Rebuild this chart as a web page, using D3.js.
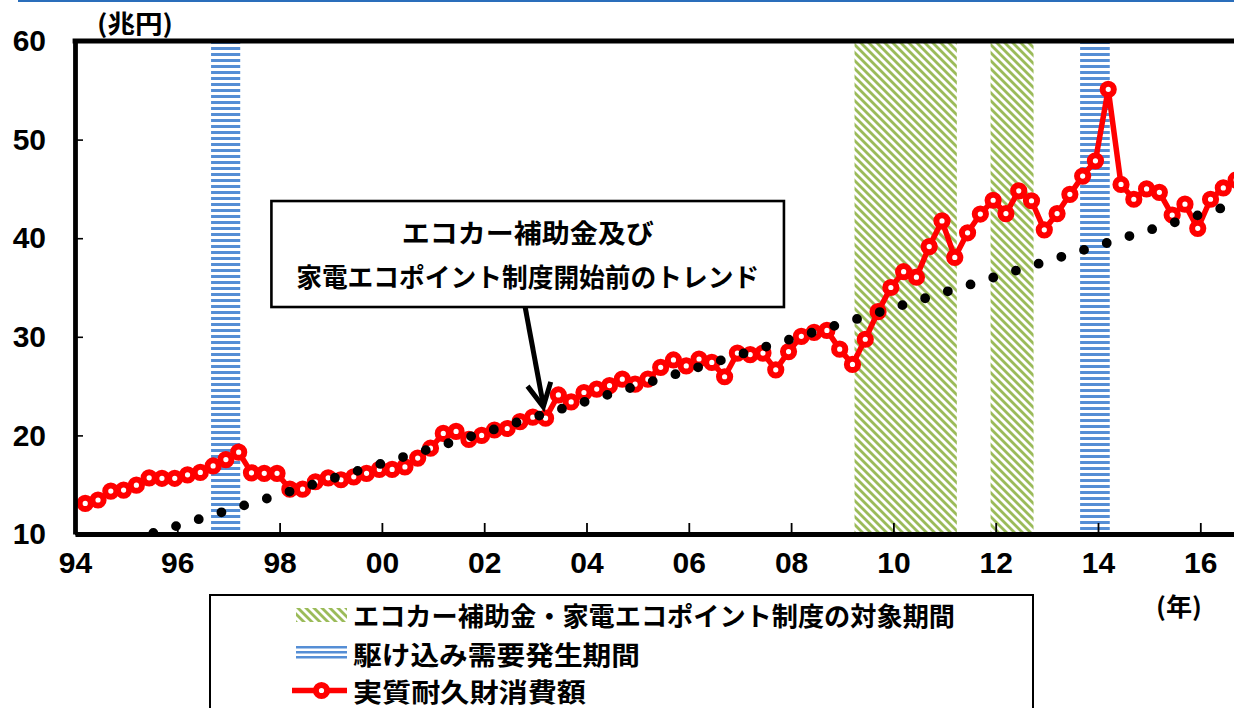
<!DOCTYPE html>
<html><head><meta charset="utf-8">
<script src="https://cdn.jsdelivr.net/npm/d3@7"></script>
<style>body{margin:0;background:#fff}svg{display:block}</style>
</head><body>
<svg id="chart" width="1234" height="708"></svg>
<script>
// ---------------- data ----------------
const quarters = [
"1994Q1","1994Q2","1994Q3","1994Q4","1995Q1","1995Q2","1995Q3","1995Q4",
"1996Q1","1996Q2","1996Q3","1996Q4","1997Q1","1997Q2","1997Q3","1997Q4",
"1998Q1","1998Q2","1998Q3","1998Q4","1999Q1","1999Q2","1999Q3","1999Q4",
"2000Q1","2000Q2","2000Q3","2000Q4","2001Q1","2001Q2","2001Q3","2001Q4",
"2002Q1","2002Q2","2002Q3","2002Q4","2003Q1","2003Q2","2003Q3","2003Q4",
"2004Q1","2004Q2","2004Q3","2004Q4","2005Q1","2005Q2","2005Q3","2005Q4",
"2006Q1","2006Q2","2006Q3","2006Q4","2007Q1","2007Q2","2007Q3","2007Q4",
"2008Q1","2008Q2","2008Q3","2008Q4","2009Q1","2009Q2","2009Q3","2009Q4",
"2010Q1","2010Q2","2010Q3","2010Q4","2011Q1","2011Q2","2011Q3","2011Q4",
"2012Q1","2012Q2","2012Q3","2012Q4","2013Q1","2013Q2","2013Q3","2013Q4",
"2014Q1","2014Q2","2014Q3","2014Q4","2015Q1","2015Q2","2015Q3","2015Q4",
"2016Q1","2016Q2","2016Q3"];
const durableConsumption = [
13.1,13.45,14.35,14.45,14.95,15.7,15.65,15.65,
16.0,16.25,16.9,17.55,18.3,16.2,16.15,16.15,
14.55,14.55,15.3,15.7,15.5,15.8,16.15,16.55,
16.55,16.8,17.7,18.7,20.2,20.4,19.6,20.0,
20.55,20.7,21.4,21.85,21.75,24.1,23.4,24.35,
24.7,25.05,25.7,25.2,25.7,26.9,27.65,27.05,
27.75,27.4,25.95,28.35,28.2,28.35,26.65,28.5,
30.05,30.45,30.65,28.75,27.2,29.75,32.55,35.0,
36.6,36.05,39.15,41.75,38.05,40.55,42.45,43.85,
42.5,44.8,43.8,40.85,42.5,44.45,46.3,47.85,
55.1,45.45,43.95,45.0,44.65,42.35,43.45,41.0,
43.95,45.1,45.9];
const trendQuarters = ["1994Q1","2016Q4"];
const trendValues = [8.0, 43.9];
const yTickValues = [10,20,30,40,50,60];
const xTickYears = [1994,1996,1998,2000,2002,2004,2006,2008,2010,2012,2014,2016];
const xTickLabels = ["94","96","98","00","02","04","06","08","10","12","14","16"];
const ecoPeriods = [[2009.24,2011.24],[2011.90,2012.74]];
const rushPeriods = [[1996.66,1997.23],[2013.65,2014.23]];
const legendLabels = ["エコカー補助金・家電エコポイント制度の対象期間","駆け込み需要発生期間","実質耐久財消費額"];
const annotationLines = ["エコカー補助金及び","家電エコポイント制度開始前のトレンド"];
const yUnitLabel = "(兆円)";
const xUnitLabel = "(年)";

// ---------------- layout ----------------
const W = 1234, H = 708;
const plot = {left:75, top:41, bottom:534, right:1251.45};
const CJK = "'Noto Sans CJK JP','Noto Sans CJK SC',sans-serif";
const NUM = "'Liberation Sans',Arial,sans-serif";
const RED = "#ff0000", GREEN = "#9bbb59", BLUE = "#558ed5";

const qYear = q => +q.slice(0,4) + (+q.slice(5) - 1)/4 + 0.2;

const x = d3.scaleLinear().domain([1994, 2017]).range([plot.left, plot.right]);
const y = d3.scaleLinear().domain([10, 60]).range([plot.bottom, plot.top]);

const svg = d3.select("#chart");
svg.append("rect").attr("width",W).attr("height",H).attr("fill","#fff");

const defs = svg.append("defs");
const hatch = defs.append("pattern").attr("id","ecoHatch")
  .attr("patternUnits","userSpaceOnUse").attr("width",8).attr("height",8);
hatch.append("rect").attr("width",8).attr("height",8).attr("fill","#fff");
hatch.append("path").attr("d","M0,0L4,0L8,4L8,8ZM0,4L4,8L0,8Z").attr("fill",GREEN);
const stripes = defs.append("pattern").attr("id","rushStripes")
  .attr("patternUnits","userSpaceOnUse").attr("width",8).attr("height",6).attr("y",plot.top);
stripes.append("rect").attr("width",8).attr("height",6).attr("fill","#fff");
stripes.append("rect").attr("width",8).attr("height",3).attr("fill",BLUE);
defs.append("clipPath").attr("id","plotClip").append("rect")
  .attr("x",plot.left).attr("y",plot.top)
  .attr("width",plot.right-plot.left+10).attr("height",plot.bottom-plot.top);

// top decorative rule
svg.append("line").attr("x1",18).attr("x2",W).attr("y1",1).attr("y2",1)
  .attr("stroke","#2a6ebb").attr("stroke-width",2);

const g = svg.append("g").attr("clip-path","url(#plotClip)");

// bands
g.selectAll("rect.eco").data(ecoPeriods).join("rect").attr("class","eco")
  .attr("x",d=>x(d[0])).attr("width",d=>x(d[1])-x(d[0]))
  .attr("y",plot.top).attr("height",plot.bottom-plot.top).attr("fill","url(#ecoHatch)");
g.selectAll("rect.rush").data(rushPeriods).join("rect").attr("class","rush")
  .attr("x",d=>x(d[0])).attr("width",d=>x(d[1])-x(d[0]))
  .attr("y",plot.top).attr("height",plot.bottom-plot.top).attr("fill","url(#rushStripes)");

// red series
const series = quarters.map((q,i)=>({t:qYear(q), v:durableConsumption[i]}));
g.append("path").datum(series)
  .attr("d", d3.line().x(d=>x(d.t)).y(d=>y(d.v)))
  .attr("fill","none").attr("stroke",RED).attr("stroke-width",5.5).attr("stroke-linejoin","round");
g.selectAll("circle.pt").data(series).join("circle").attr("class","pt")
  .attr("cx",d=>x(d.t)).attr("cy",d=>y(d.v)).attr("r",5.6)
  .attr("fill","#fff").attr("stroke",RED).attr("stroke-width",6);

// trend (round-dot line)
const trend = trendQuarters.map((q,i)=>({t:qYear(q), v:trendValues[i]}));
const tx0 = x(trend[0].t), ty0 = y(trend[0].v), tx1 = x(trend[1].t), ty1 = y(trend[1].v);
const dotStepX = 22.7;
const gap = dotStepX * Math.hypot(tx1-tx0, ty1-ty0) / (tx1-tx0);
g.append("path").datum(trend)
  .attr("d", d3.line().x(d=>x(d.t)).y(d=>y(d.v)))
  .attr("fill","none").attr("stroke","#000").attr("stroke-width",9.8)
  .attr("stroke-linecap","round").attr("stroke-dasharray",`0 ${gap}`);

// axes
const yAxis = d3.axisLeft(y).tickValues(yTickValues).tickSizeInner(-8).tickSizeOuter(0).tickPadding(29);
const ya = svg.append("g").attr("transform",`translate(${plot.left},0)`).call(yAxis);
ya.select(".domain").attr("stroke","#000").attr("stroke-width",4.8);
ya.selectAll(".tick line").attr("stroke","#000").attr("stroke-width",1.6);
ya.selectAll(".tick text").attr("font-family",NUM).attr("font-size",30).attr("font-weight","bold").attr("fill","#000");

const xAxis = d3.axisBottom(x).tickValues(xTickYears).tickFormat((d,i)=>xTickLabels[i])
  .tickSizeInner(-11).tickSizeOuter(0).tickPadding(18);
const xa = svg.append("g").attr("transform",`translate(0,${plot.bottom})`).call(xAxis);
xa.select(".domain").attr("stroke","#000").attr("stroke-width",5);
xa.selectAll(".tick line").attr("stroke","#000").attr("stroke-width",1.8);
xa.selectAll(".tick text").attr("font-family",NUM).attr("font-size",30).attr("font-weight","bold").attr("fill","#000");

// top border
svg.append("line").attr("x1",plot.left-2.4).attr("x2",W+5).attr("y1",plot.top).attr("y2",plot.top)
  .attr("stroke","#000").attr("stroke-width",5);

// unit labels
svg.append("text").attr("x",97).attr("y",33).text(yUnitLabel)
  .attr("font-family",CJK).attr("font-weight","bold").attr("font-size",25)
  .attr("textLength",76).attr("lengthAdjust","spacingAndGlyphs");
svg.append("text").attr("x",1156).attr("y",616).text(xUnitLabel)
  .attr("font-family",CJK).attr("font-weight","bold").attr("font-size",25)
  .attr("textLength",46).attr("lengthAdjust","spacingAndGlyphs");

// annotation
const box = {t0:1997.84, t1:2007.86, vTop:43.77, vBottom:33.02};
const bx0 = x(box.t0), bx1 = x(box.t1), by0 = y(box.vTop), by1 = y(box.vBottom);
svg.append("rect").attr("x",bx0).attr("y",by0).attr("width",bx1-bx0).attr("height",by1-by0)
  .attr("fill","#fff").attr("stroke","#000").attr("stroke-width",2.6);
const acx = (bx0+bx1)/2;
const annWidths = [252, 463];
const annY = [231.5, 275];
annotationLines.forEach((s,i)=>{
  svg.append("text").attr("x",acx).attr("y",annY[i]).text(s)
    .attr("text-anchor","middle").attr("dominant-baseline","central")
    .attr("font-family",CJK).attr("font-weight","bold").attr("font-size",26)
    .attr("textLength",annWidths[i]).attr("lengthAdjust","spacingAndGlyphs");
});
const arrowFrom = {t:2002.80, v:box.vBottom}, arrowTo = {t:2003.155, v:22.9};
const ax0 = x(arrowFrom.t), ay0 = y(arrowFrom.v), ax1 = x(arrowTo.t), ay1 = y(arrowTo.v);
svg.append("line").attr("x1",ax0).attr("y1",ay0).attr("x2",ax1).attr("y2",ay1-2)
  .attr("stroke","#000").attr("stroke-width",5);
const ang = Math.atan2(ay0-ay1, ax0-ax1), hl = 26, ha = 27*Math.PI/180;
const arm = s => [ax1 + hl*Math.cos(ang+s*ha), ay1 + hl*Math.sin(ang+s*ha)];
svg.append("path").attr("d",`M${arm(1)}L${ax1},${ay1}L${arm(-1)}`)
  .attr("fill","none").attr("stroke","#000").attr("stroke-width",5).attr("stroke-linejoin","miter");

// legend
const lg = svg.append("g");
lg.append("rect").attr("x",210).attr("y",595).attr("width",823).attr("height",140)
  .attr("fill","#fff").attr("stroke","#000").attr("stroke-width",2);
const ly = [614, 653, 690.5];
const lw = [602, 287, 233];
lg.append("rect").attr("x",296).attr("y",608).attr("width",51).attr("height",14).attr("fill","url(#ecoHatch)");
[647.3,652.3,657.3].forEach(v=>lg.append("line").attr("x1",296).attr("x2",347).attr("y1",v).attr("y2",v)
  .attr("stroke",BLUE).attr("stroke-width",2.4));
lg.append("line").attr("x1",292).attr("x2",347).attr("y1",ly[2]).attr("y2",ly[2]).attr("stroke",RED).attr("stroke-width",5.5);
lg.append("circle").attr("cx",321.5).attr("cy",ly[2]).attr("r",5.6).attr("fill","#fff").attr("stroke",RED).attr("stroke-width",6);
legendLabels.forEach((s,i)=>{
  lg.append("text").attr("x",353).attr("y",ly[i]).text(s)
    .attr("dominant-baseline","central").attr("font-family",CJK).attr("font-weight","bold")
    .attr("font-size",26).attr("textLength",lw[i]).attr("lengthAdjust","spacingAndGlyphs");
});
</script>
</body></html>
